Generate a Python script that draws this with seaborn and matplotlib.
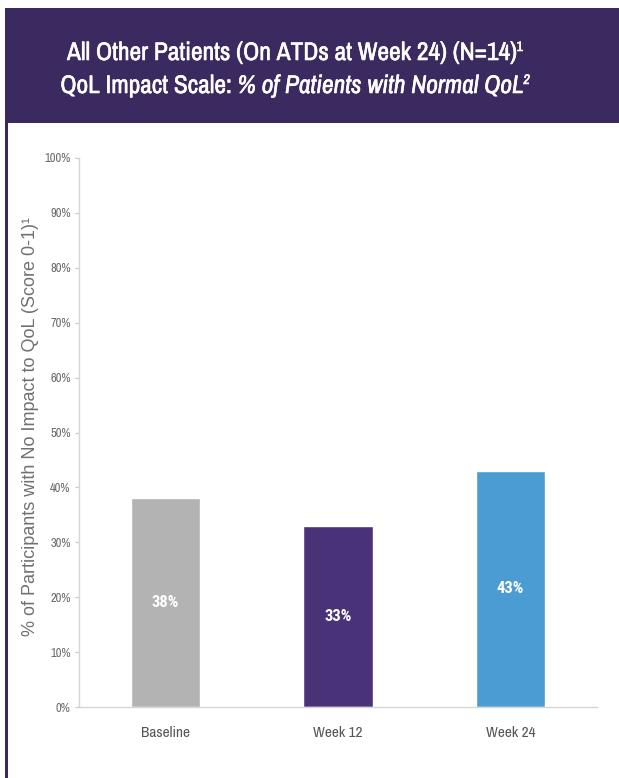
import matplotlib
matplotlib.use("Agg")
import matplotlib.pyplot as plt
from matplotlib.patches import Rectangle
from matplotlib.ticker import MultipleLocator, PercentFormatter
import matplotlib.patheffects as pe
import seaborn as sns
import pandas as pd

# Chart data
categories = ["Baseline", "Week 12", "Week 24"]
pct_normal_qol = [38, 33, 43]
bar_colors = ["#b3b3b3", "#4a3278", "#4b9cd3"]

title_line1 = "All Other Patients (On ATDs at Week 24) (N=14)"
title_line2_plain = "QoL Impact Scale: "
title_line2_italic = "% of Patients with Normal QoL"
ylabel_text = "% of Participants with No Impact to QoL (Score 0-1)\u00b9"

HEADER = "#3b2a5f"
NARROW = ["Archivo Narrow", "Roboto Condensed", "Liberation Sans", "DejaVu Sans"]
CONDENSED = ["Roboto Condensed", "Archivo Narrow", "Liberation Sans", "DejaVu Sans"]
SANS = ["Liberation Sans", "DejaVu Sans"]

sns.set_theme(style="white")
plt.rcParams["font.family"] = SANS

W, H = 619, 778
fig = plt.figure(figsize=(W / 100, H / 100), dpi=100)
fig.patch.set_facecolor("white")

# Purple header band and left frame line
fig.patches.append(Rectangle((5 / W, 1 - 123 / H), 1 - 5 / W, (123 - 8) / H,
                             transform=fig.transFigure, facecolor=HEADER,
                             edgecolor="none", zorder=0))
fig.patches.append(Rectangle((5 / W, 0), 2.5 / W, 1 - 123 / H,
                             transform=fig.transFigure, facecolor=HEADER,
                             edgecolor="none", zorder=0))

ax = fig.add_axes([79 / W, 1 - 707 / H, (597 - 79) / W, (707 - 158) / H])
df = pd.DataFrame({"period": categories, "value": pct_normal_qol})
sns.barplot(data=df, x="period", y="value", hue="period",
            palette=bar_colors, width=0.4, legend=False, ax=ax,
            saturation=1)

ax.set_ylim(0, 100)
ax.set_xlim(-0.5, 2.5)
ax.yaxis.set_major_locator(MultipleLocator(10))
ax.yaxis.set_major_formatter(PercentFormatter(decimals=0))
ax.set_xlabel("")
ax.set_ylabel(ylabel_text, color="#707070", fontsize=13, family=SANS)
ax.yaxis.set_label_coords(-0.077, 0.51)

for side in ["top", "right"]:
    ax.spines[side].set_visible(False)
for side in ["left", "bottom"]:
    ax.spines[side].set_color("#d6d6d6")
    ax.spines[side].set_linewidth(1.0)

ax.tick_params(axis="y", which="major", left=True, length=3, width=0.8,
               color="#c8c8c8", labelcolor="#6a6a6a", labelsize=9, pad=3)
ax.tick_params(axis="x", bottom=False, labelcolor="#555555", labelsize=11,
               pad=8)
for lbl in ax.get_yticklabels() + ax.get_xticklabels():
    lbl.set_family(NARROW)

for container in ax.containers:
    ax.bar_label(container, fmt="%.0f%%", label_type="center",
                 color="white", fontsize=12, fontweight="bold",
                 family=CONDENSED)


def draw_row(pieces, xc, y):
    """Place text pieces side by side, centred on figure x = xc."""
    renderer = fig.canvas.get_renderer()
    texts = []
    for s, kw, dy in pieces:
        t = fig.text(0, y + dy, s, transform=fig.transFigure, color="white",
                     va="baseline", ha="left", **kw)
        t.set_path_effects([pe.withStroke(linewidth=0.4, foreground="white")])
        texts.append(t)
    widths = [t.get_window_extent(renderer).width / W for t in texts]
    x = xc - sum(widths) / 2
    for t, w in zip(texts, widths):
        t.set_x(x)
        x += w


base = dict(family=NARROW, fontsize=18.3)
sup = dict(family=NARROW, fontsize=10)
draw_row([(title_line1, base, 0), ("1", sup, 9 / H)], 295 / W, 1 - 60 / H)
draw_row([(title_line2_plain, base, 0),
          (title_line2_italic, dict(base, style="italic"), 0),
          ("2", dict(sup, style="italic"), 9 / H)], 295 / W, 1 - 93 / H)

fig.savefig("out.png", dpi=100, facecolor="white")
